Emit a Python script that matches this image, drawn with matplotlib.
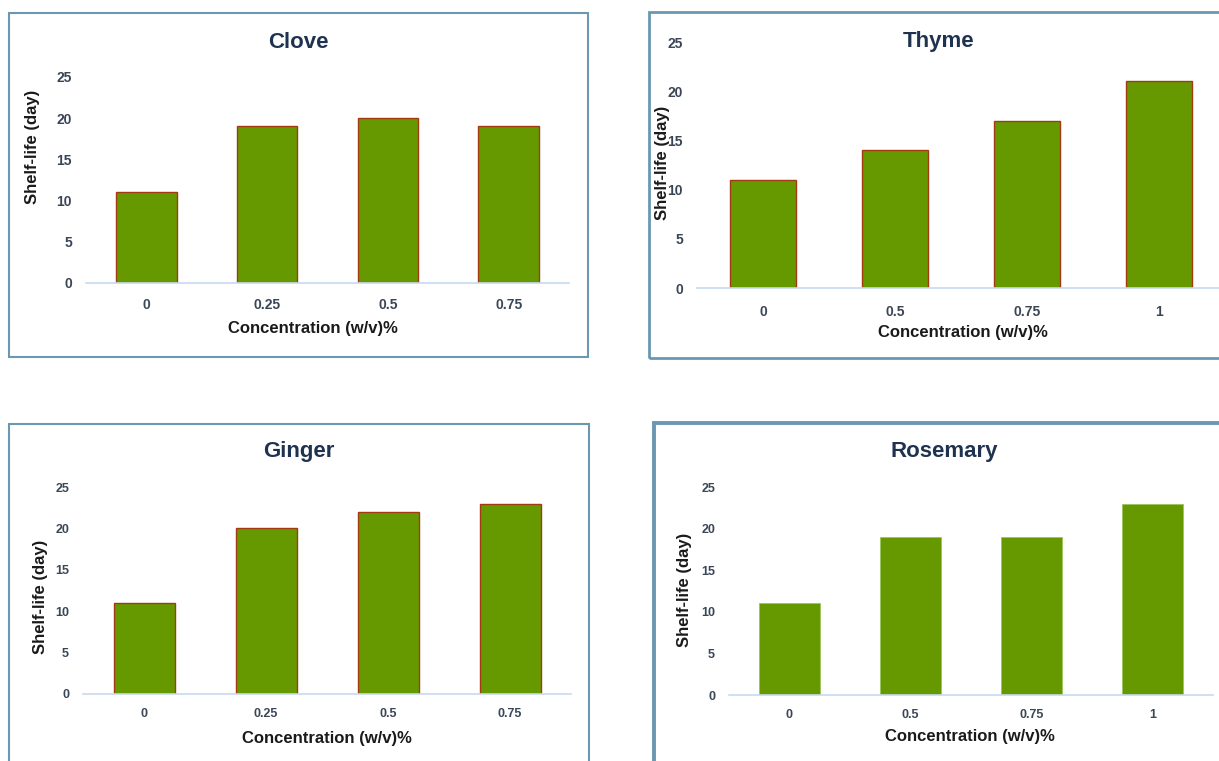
import matplotlib.pyplot as plt
from matplotlib.patches import Rectangle

plt.rcParams['font.family'] = ['Liberation Sans', 'DejaVu Sans']

W, H = 1219, 761

# shelf-life (days) at each concentration
clove_conc = ["0", "0.25", "0.5", "0.75"]
clove_days = [11, 19, 20, 19]

thyme_conc = ["0", "0.5", "0.75", "1"]
thyme_days = [11, 14, 17, 21]

ginger_conc = ["0", "0.25", "0.5", "0.75"]
ginger_days = [11, 20, 22, 23]

rosemary_conc = ["0", "0.5", "0.75", "1"]
rosemary_days = [11, 19, 19, 23]

y_ticks = [0, 5, 10, 15, 20, 25]

GREEN = "#669900"
EDGE = "#a33a12"
FRAME = "#6a98b0"
TITLE_C = "#1f3350"
TICK_C = "#3a4656"

fig = plt.figure(figsize=(W / 100, H / 100), dpi=100)


def fx(x):
    return x / W


def fy(y):
    return 1 - y / H


def panel(name, conc, days, axbox, frame, frame_lw, title_xy, xlab_xy, ylab_xy,
          tick_fs, xpad, edge):
    x0, x1, ytop, ybot = axbox
    # outer box around each chart
    fx0, fy0, fx1, fy1 = frame
    fig.add_artist(Rectangle((fx(fx0), fy(fy1)), (fx1 - fx0) / W, (fy1 - fy0) / H,
                             transform=fig.transFigure, fill=False, ec=FRAME,
                             lw=frame_lw, clip_on=False))
    ax = fig.add_axes([fx(x0), fy(ybot), (x1 - x0) / W, (ybot - ytop) / H])
    pos = range(len(days))
    if edge:
        ax.bar(pos, days, width=0.5, color=GREEN, edgecolor=EDGE, linewidth=1.0)
    else:
        ax.bar(pos, days, width=0.5, color=GREEN, edgecolor="#9cc45a", linewidth=0.6)
    ax.set_xlim(-0.5, len(days) - 0.5)
    ax.set_ylim(0, 25)
    ax.set_yticks(y_ticks)
    ax.set_xticks(list(pos))
    ax.set_xticklabels(conc)
    for s in ["top", "right", "left"]:
        ax.spines[s].set_visible(False)
    ax.spines["bottom"].set_color("#c6daf0")
    ax.spines["bottom"].set_linewidth(1.2)
    ax.tick_params(axis="y", length=0, pad=10, labelsize=tick_fs, labelcolor=TICK_C)
    ax.tick_params(axis="x", length=0, pad=xpad, labelsize=tick_fs, labelcolor=TICK_C)
    for lab in ax.get_xticklabels() + ax.get_yticklabels():
        lab.set_fontweight("bold")
    ax.patch.set_alpha(0)

    fig.text(fx(title_xy[0]), fy(title_xy[1]), name, ha="center", va="center",
             fontsize=16, fontweight="bold", color=TITLE_C)
    fig.text(fx(xlab_xy[0]), fy(xlab_xy[1]), "Concentration (w/v)%", ha="center",
             va="center", fontsize=12, fontweight="bold", color="#1a1a1a")
    fig.text(fx(ylab_xy[0]), fy(ylab_xy[1]), "Shelf-life (day)", ha="center",
             va="center", rotation=90, fontsize=12, fontweight="bold",
             color="#1a1a1a", zorder=5)


panel("Clove", clove_conc, clove_days, (86, 569, 77, 283), (9, 13, 588, 357), 1.5,
      (298, 42), (313, 329), (33, 147), 10, 11, True)
panel("Thyme", thyme_conc, thyme_days, (697, 1225, 42, 288), (649, 12, 1240, 358), 2.0,
      (939, 42), (963, 333), (663, 163), 10, 12, True)
panel("Ginger", ginger_conc, ginger_days, (83, 571, 487, 694), (9, 424, 589, 790), 1.5,
      (299, 452), (327, 738), (40, 597), 9, 10, True)
panel("Rosemary", rosemary_conc, rosemary_days, (729, 1213, 487, 695), (654, 423, 1240, 790), 2.8,
      (944, 452), (970, 737), (685, 590), 9, 10, False)

fig.savefig("out.png", dpi=100)
